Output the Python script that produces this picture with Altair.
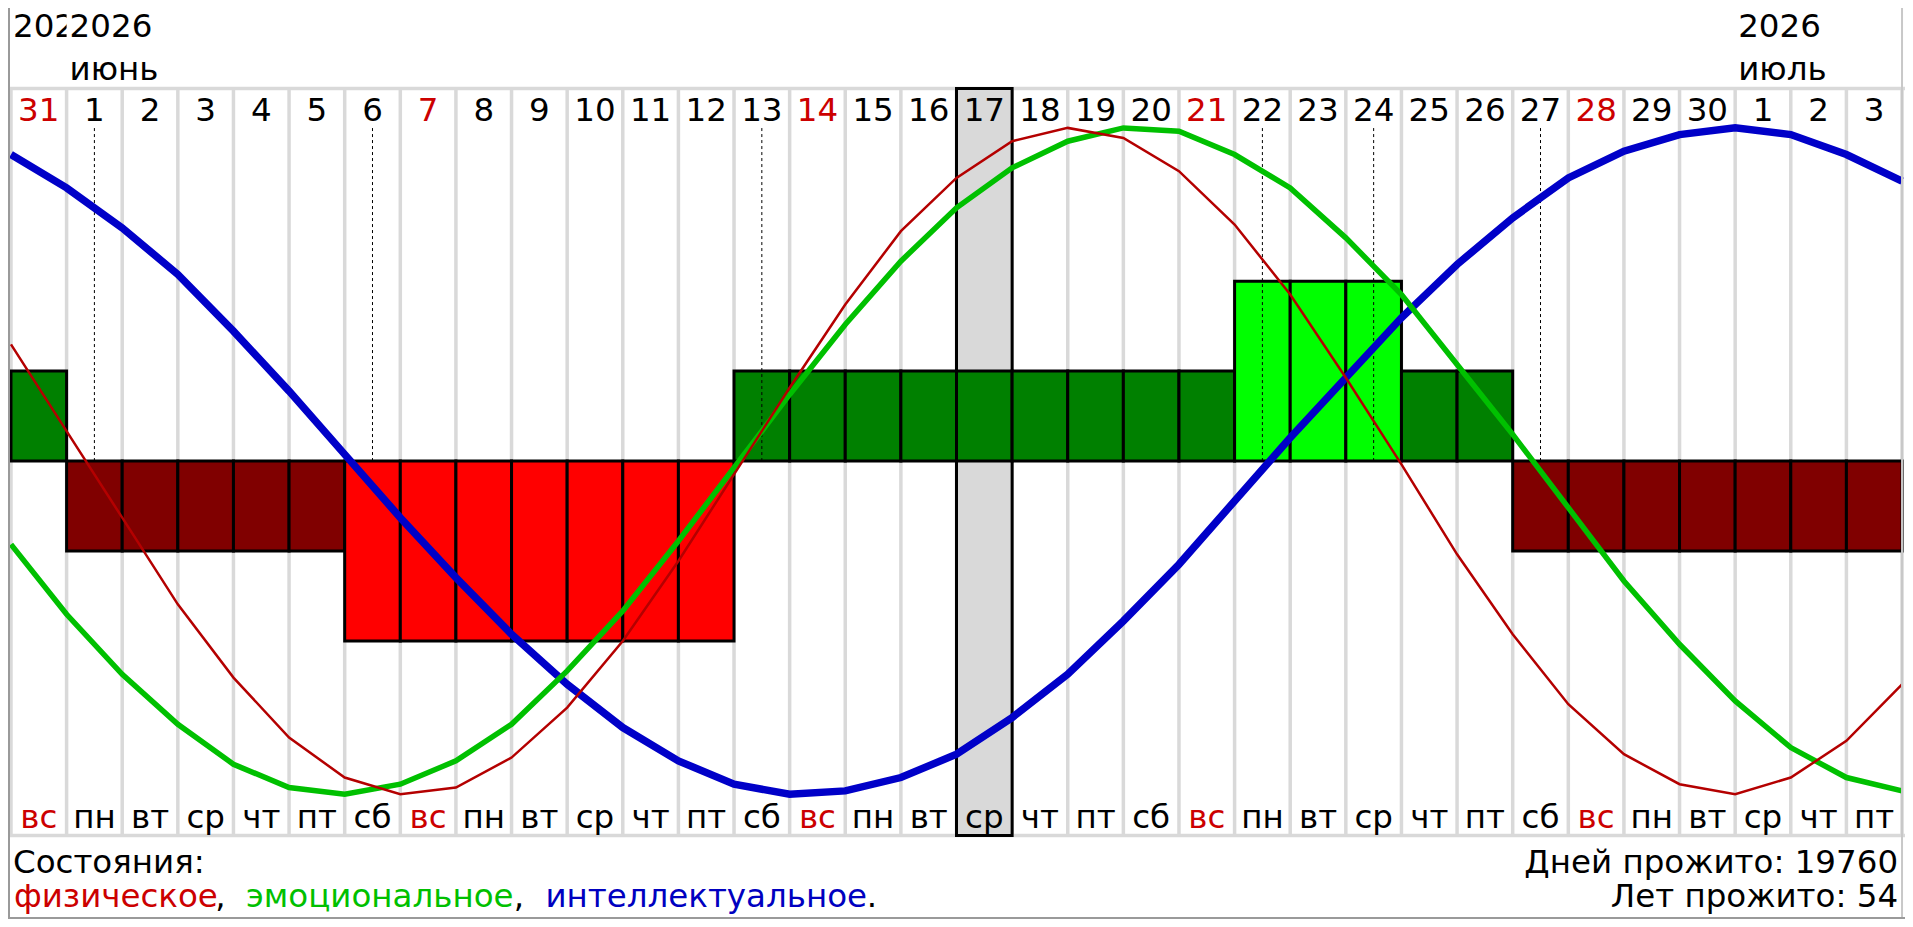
import altair as alt
import pandas as pd

# ---------------- data ----------------
days = [31, 1, 2, 3, 4, 5, 6, 7, 8, 9, 10, 11, 12, 13, 14, 15, 16, 17,
        18, 19, 20, 21, 22, 23, 24, 25, 26, 27, 28, 29, 30, 1, 2, 3]
weekdays = ["вс", "пн", "вт", "ср", "чт", "пт", "сб",
            "вс", "пн", "вт", "ср", "чт", "пт", "сб",
            "вс", "пн", "вт", "ср", "чт", "пт", "сб",
            "вс", "пн", "вт", "ср", "чт", "пт", "сб",
            "вс", "пн", "вт", "ср", "чт", "пт"]
# daily state bars: +2 bright green, +1 dark green, -1 dark red, -2 red
bar_levels = [1, -1, -1, -1, -1, -1, -2, -2, -2, -2, -2, -2, -2,
              1, 1, 1, 1, 1, 1, 1, 1, 1, 2, 2, 2, 1, 1,
              -1, -1, -1, -1, -1, -1, -1]
# curve values at each day boundary (35 points)
physical = [0.35, 0.09, -0.17, -0.43, -0.65, -0.83, -0.95, -1.00, -0.98, -0.89,
            -0.74, -0.54, -0.30, -0.04, 0.22, 0.47, 0.69, 0.85, 0.96, 1.00,
            0.97, 0.87, 0.71, 0.50, 0.25, -0.01, -0.28, -0.52, -0.73, -0.88,
            -0.97, -1.00, -0.95, -0.84, -0.67]
emotional = [-0.25, -0.46, -0.64, -0.79, -0.91, -0.98, -1.00, -0.97, -0.90, -0.79,
             -0.63, -0.45, -0.24, -0.02, 0.20, 0.41, 0.60, 0.76, 0.88, 0.96,
             1.00, 0.99, 0.92, 0.82, 0.67, 0.50, 0.29, 0.08, -0.14, -0.36,
             -0.55, -0.72, -0.86, -0.95, -0.99]
intellectual = [0.92, 0.82, 0.70, 0.56, 0.39, 0.21, 0.02, -0.17, -0.35, -0.52,
                -0.67, -0.80, -0.90, -0.97, -1.00, -0.99, -0.95, -0.88, -0.77, -0.64,
                -0.48, -0.31, -0.12, 0.07, 0.25, 0.43, 0.59, 0.73, 0.85, 0.93,
                0.98, 1.00, 0.98, 0.92, 0.84]
boundaries = [0, 1, 2, 3, 4, 5, 6, 7, 8, 9, 10, 11, 12, 13, 14, 15, 16, 17,
              18, 19, 20, 21, 22, 23, 24, 25, 26, 27, 28, 29, 30, 31, 32, 33, 34]
critical_days = [1, 6, 13, 22, 24, 27]
today_idx = [17]
month_start = [1, 31]
month_year = ["2026", "2026"]
month_name = ["июнь", "июль"]
first_year = ["2026"]
legend_title = "Состояния:"
legend_parts = ["физическое", ",", "эмоциональное", ",", "интеллектуальное", "."]
stats = ["Дней прожито: 19760", "Лет прожито: 54"]

# ---------------- layout ----------------
W, H = 1897, 911
def px(t):
    return t * W / 1913
def py(t):
    return t * H / 927

FONT = "DejaVu Sans"
FS = 32.5
RED_TXT = "#cc0000"

xs = alt.Scale(domain=[0, 34], range=[px(3), px(1910)], nice=False, zero=False)
ys = alt.Scale(domain=[-1.3746, 1.3599], nice=False, zero=False)

cols = pd.DataFrame({"i": list(range(34)), "day": days, "wd": weekdays, "level": bar_levels})
one = pd.DataFrame({"k": [0]})

grid_v = alt.Chart(pd.DataFrame({"b": boundaries})).mark_rule(
    color="#d9d9d9", strokeWidth=3.5).encode(
    x=alt.X("b:Q", scale=xs, axis=None), y=alt.value(py(82)), y2=alt.value(py(842)))
grid_top = alt.Chart(one).mark_rule(color="#d9d9d9", strokeWidth=3.5).encode(
    x=alt.value(0), x2=alt.value(W), y=alt.value(py(82)))
grid_bot = alt.Chart(one).mark_rule(color="#d9d9d9", strokeWidth=3.5).encode(
    x=alt.value(0), x2=alt.value(W), y=alt.value(py(842)))

highlight = alt.Chart(pd.DataFrame({"i": today_idx})).transform_calculate(
    i1="datum.i + 1").mark_rect(fill="#d9d9d9", stroke="black", strokeWidth=3).encode(
    x=alt.X("i:Q", scale=xs, axis=None), x2="i1:Q",
    y=alt.value(py(82)), y2=alt.value(py(842)))

bars = alt.Chart(cols).transform_calculate(
    i1="datum.i + 1", z="0", h="datum.level * 0.27").mark_rect(
    stroke="black", strokeWidth=3).encode(
    x=alt.X("i:Q", scale=xs, axis=None), x2="i1:Q",
    y=alt.Y("z:Q", scale=ys, axis=None), y2="h:Q",
    color=alt.Color("level:O", scale=alt.Scale(domain=[-2, -1, 1, 2],
                    range=["#ff0000", "#800000", "#008000", "#00ff00"]), legend=None))

dashed = alt.Chart(pd.DataFrame({"i": critical_days})).transform_calculate(
    xc="datum.i + 0.5", z="0").mark_rule(
    color="black", strokeWidth=1, strokeDash=[3, 3]).encode(
    x=alt.X("xc:Q", scale=xs, axis=None),
    y=alt.Y("z:Q", scale=ys, axis=None), y2=alt.value(py(122)))

def curve(vals, color, width):
    return alt.Chart(pd.DataFrame({"b": boundaries, "v": vals})).mark_line(
        color=color, strokeWidth=width).encode(
        x=alt.X("b:Q", scale=xs, axis=None), y=alt.Y("v:Q", scale=ys, axis=None))

line_i = curve(intellectual, "#0000c8", 7.5)
line_e = curve(emotional, "#00c000", 5.5)
line_p = curve(physical, "#b40000", 2.5)

sun_color = alt.condition(alt.datum.wd == "вс", alt.value(RED_TXT), alt.value("black"))

daynums = alt.Chart(cols).transform_calculate(xc="datum.i + 0.5").mark_text(
    font=FONT, fontSize=FS, baseline="alphabetic", align="center").encode(
    x=alt.X("xc:Q", scale=xs, axis=None), y=alt.value(py(115)),
    text="day:N", color=sun_color)

wdays = alt.Chart(cols).transform_calculate(xc="datum.i + 0.5").mark_text(
    font=FONT, fontSize=FS, baseline="alphabetic", align="center").encode(
    x=alt.X("xc:Q", scale=xs, axis=None), y=alt.value(py(834)),
    text="wd:N", color=sun_color)

# May label, clipped by the June label as in the reference
first_lbl = alt.Chart(pd.DataFrame({"s": [0], "y": first_year})).mark_text(
    font=FONT, fontSize=FS, baseline="alphabetic", align="left", dx=2, color="black",
    limit=px(64), ellipsis="\u200b").encode(
    x=alt.X("s:Q", scale=xs, axis=None), y=alt.value(py(30)), text="y:N")
cover = alt.Chart(pd.DataFrame({"a": [1], "b2": [34]})).mark_rect(color="white").encode(
    x=alt.X("a:Q", scale=xs, axis=None), x2="b2:Q", y=alt.value(0), y2=alt.value(py(79)))
mdf = pd.DataFrame({"s": month_start, "y": month_year, "m": month_name})
month_y = alt.Chart(mdf).mark_text(
    font=FONT, fontSize=FS, baseline="alphabetic", align="left", dx=3, color="black").encode(
    x=alt.X("s:Q", scale=xs, axis=None), y=alt.value(py(30)), text="y:N")
month_n = alt.Chart(mdf).mark_text(
    font=FONT, fontSize=FS, baseline="alphabetic", align="left", dx=3, color="black").encode(
    x=alt.X("s:Q", scale=xs, axis=None), y=alt.value(py(73)), text="m:N")

title_txt = alt.Chart(pd.DataFrame({"t": [legend_title]})).mark_text(
    font=FONT, fontSize=FS, baseline="alphabetic", align="left", color="black").encode(
    x=alt.value(px(5)), y=alt.value(py(880)), text="t:N")

leg_x = [6, 209, 240, 510, 542, 866]
leg_c = [RED_TXT, "black", "#00c000", "black", "#0000c0", "black"]
leg_layers = []
for t, xx, cc in zip(legend_parts, leg_x, leg_c):
    leg_layers.append(alt.Chart(pd.DataFrame({"t": [t]})).mark_text(
        font=FONT, fontSize=FS, baseline="alphabetic", align="left", color=cc).encode(
        x=alt.value(px(xx)), y=alt.value(py(915)), text="t:N"))

stat1 = alt.Chart(pd.DataFrame({"t": [stats[0]]})).mark_text(
    font=FONT, fontSize=FS, baseline="alphabetic", align="right", color="black").encode(
    x=alt.value(px(1906)), y=alt.value(py(880)), text="t:N")
stat2 = alt.Chart(pd.DataFrame({"t": [stats[1]]})).mark_text(
    font=FONT, fontSize=FS, baseline="alphabetic", align="right", color="black").encode(
    x=alt.value(px(1906)), y=alt.value(py(915)), text="t:N")

border_l = alt.Chart(one).mark_rule(color="#9a9a9a", strokeWidth=2).encode(
    x=alt.value(1), y=alt.value(0), y2=alt.value(H))
border_r = alt.Chart(one).mark_rule(color="#c8c8c8", strokeWidth=2).encode(
    x=alt.value(px(1910)), y=alt.value(0), y2=alt.value(H))
border_b = alt.Chart(one).mark_rule(color="#9a9a9a", strokeWidth=2).encode(
    x=alt.value(0), x2=alt.value(W), y=alt.value(H - 1))

chart = alt.layer(
    grid_v, grid_top, grid_bot, highlight, bars, dashed,
    line_i, line_e, line_p,
    daynums, wdays, first_lbl, cover, month_y, month_n,
    title_txt, *leg_layers, stat1, stat2,
    border_l, border_r, border_b,
).properties(
    width=W, height=H, padding=0, background="white",
    autosize=alt.AutoSizeParams(type="none"),
).configure_view(stroke=None)

chart.save("out.html", embed_options={"renderer": "svg", "actions": False})
